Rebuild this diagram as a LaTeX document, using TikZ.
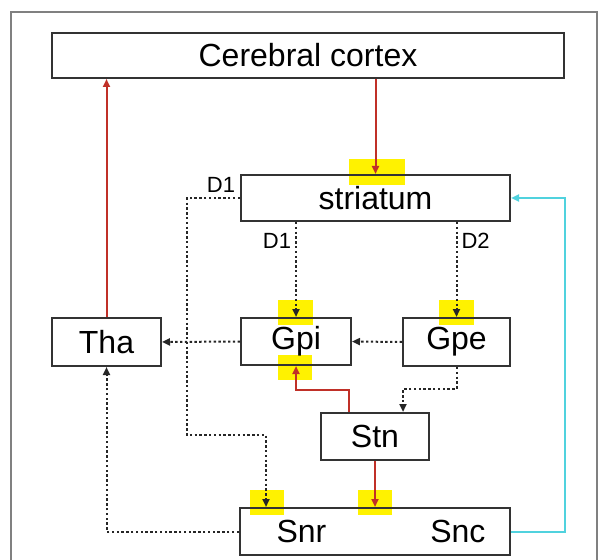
\documentclass[tikz,border=0pt]{standalone}
\usepackage{fontspec}
\setmainfont{Liberation Sans}
\usetikzlibrary{arrows.meta,positioning,calc,backgrounds}
\definecolor{rojo}{RGB}{192,48,40}
\definecolor{cian}{RGB}{80,210,222}

\begin{document}
\begin{tikzpicture}[x=0.5pt,y=-0.5pt,font=\fontsize{16}{19}\selectfont,>={Triangle[width=3.5pt,length=4pt]},
 caja/.style={draw=black!80,line width=1pt,inner sep=0pt,minimum height=23.5pt},
 etiqueta/.style={font=\fontsize{11}{13}\selectfont,inner sep=2pt},
 roja/.style={->,draw=rojo,line width=1pt},
 punteada/.style={->,draw=black!85,line width=1pt,dash pattern=on 1.2pt off 1.2pt},
 celeste/.style={->,draw=cian,line width=1pt},
 marca/.style={fill=yellow,draw=none}]
\useasboundingbox (0,0) rectangle (608,560);
\draw[gray,line width=0.8pt] (11,560) -- (11,12) -- (597,12) -- (597,560);
\node[caja,minimum width=256pt,minimum height=22.5pt] (cortex) at (308,55.5) {Cerebral cortex};
\node[caja,minimum width=134.5pt,minimum height=23pt] (striatum) at (375.5,198) {striatum};
\node[caja,minimum width=54.5pt,minimum height=24pt] (Tha) at (106.5,342) {Tha};
\node[caja,minimum width=55pt] (Gpi) at (296,341.5) {Gpi};
\node[caja,minimum width=53.5pt,minimum height=24pt] (Gpe) at (456.5,342) {Gpe};
\node[caja,minimum width=54pt] (Stn) at (375,436.5) {Stn};
\node[caja,minimum width=135pt] (nigra) at (375,531.5) {\hspace*{6pt}Snr\hspace{52pt}Snc};
\coordinate (giro) at (187,435);
\coordinate (snrin) at ($(nigra.north west)+(27,0)$);
% highlights
\begin{scope}[on background layer]
\fill[marca] (349,159) rectangle (405,185);
\fill[marca] (278,300) rectangle (313,325);
\fill[marca] (439,300) rectangle (474,325);
\fill[marca] (278,355) rectangle (312,380);
\fill[marca] (250,490) rectangle (284,515);
\fill[marca] (358,490) rectangle (392,515);
\end{scope}
\draw[roja] (cortex.south -| striatum.north) -- (striatum.north);
\draw[roja] (Tha.north) -- (Tha.north |- cortex.south);
\draw[punteada] (striatum.west) node[etiqueta,above left]{D1} -| (giro) -| (snrin);
\draw[punteada] (striatum.south -| Gpi.north) -- node[etiqueta,left,pos=0.2]{D1} (Gpi.north);
\draw[punteada] (striatum.south -| Gpe.north) -- node[etiqueta,right,pos=0.2]{D2} (Gpe.north);
\draw[punteada] (Gpe.west) -- (Gpi.east);
\draw[punteada] (Gpi.west) -- (Tha.east);
\draw[punteada] (Gpe.south) -- ++(0,22) -| ($(Stn.north)+(28,0)$);
\draw[roja] ($(Stn.north)+(-26,0)$) |- ($(Gpi.south)+(0,24)$) -- (Gpi.south);
\draw[roja] (Stn.south) -- (Stn.south |- nigra.north);
\draw[punteada] (nigra.west) -| (Tha.south);
\draw[celeste] (nigra.east) -- ++(54,0) |- (striatum.east);
\end{tikzpicture}
\end{document}
